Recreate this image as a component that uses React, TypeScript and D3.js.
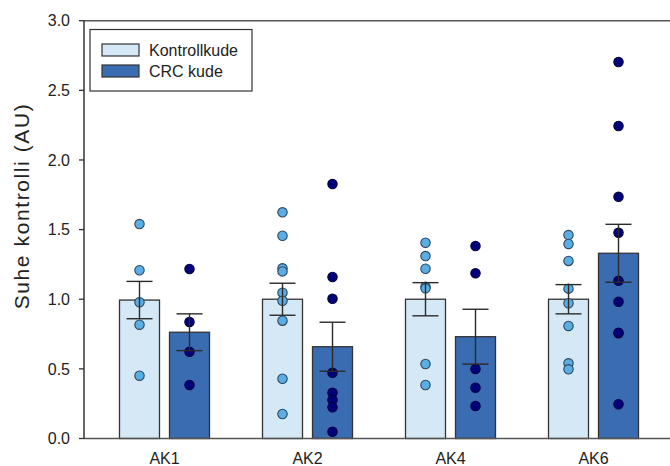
import React from "react";
import * as d3 from "d3";

const categories = ["AK1", "AK2", "AK4", "AK6"];
const seriesNames = ["Kontrollkude", "CRC kude"];

const kontrollMean = [0.994, 1.0, 1.0, 1.0];
const kontrollSem = [0.134, 0.115, 0.119, 0.105];
const crcMean = [0.763, 0.659, 0.731, 1.33];
const crcSem = [0.132, 0.176, 0.197, 0.208];

const kontrollPoints = [
  [1.54, 1.208, 0.978, 0.817, 0.451],
  [1.624, 1.456, 1.222, 1.2, 1.047, 0.989, 0.846, 0.429, 0.176],
  [1.406, 1.31, 1.219, 1.09, 1.078, 0.535, 0.384],
  [1.461, 1.397, 1.275, 1.076, 0.971, 0.808, 0.54, 0.497],
];
const crcPoints = [
  [1.217, 0.837, 0.623, 0.384],
  [1.827, 1.16, 1.004, 0.472, 0.329, 0.276, 0.224, 0.049],
  [1.382, 1.186, 0.499, 0.365, 0.233],
  [2.703, 2.244, 1.736, 1.478, 1.133, 0.982, 0.755, 0.76, 0.246],
];

const yTicks = [0, 0.5, 1.0, 1.5, 2.0, 2.5, 3.0];

const W = 670;
const H = 466;
const FONT = "'Liberation Sans', Arial, sans-serif";

export default function App() {
  const left = 84;
  const top = 20.7;
  const bottom = 438.5;

  const y = d3.scaleLinear().domain([0, 3]).range([bottom, top]);
  const x = d3.scaleBand<string>().domain(categories).range([93, 665]).padding(0);
  const barW = 40;
  const gap = 10;
  const capHalf = 13;

  const series = [
    {
      name: seriesNames[0],
      mean: kontrollMean,
      sem: kontrollSem,
      pts: kontrollPoints,
      fill: "#d5e8f6",
      dotFill: "#5aaee3",
      dotStroke: "#2b4760",
      off: -gap / 2 - barW,
    },
    {
      name: seriesNames[1],
      mean: crcMean,
      sem: crcSem,
      pts: crcPoints,
      fill: "#3a6cb2",
      dotFill: "#00007a",
      dotStroke: "#000040",
      off: gap / 2,
    },
  ];

  const center = (c: string) => (x(c) as number) + x.bandwidth() / 2;

  return (
    <svg
      width={W}
      height={H}
      style={{ position: "absolute", left: 0, top: 0, background: "#fff" }}
      fontFamily={FONT}
    >
      {/* bars */}
      {series.map((s, si) =>
        categories.map((c, i) => (
          <rect
            key={`b${si}${i}`}
            x={center(c) + s.off}
            y={y(s.mean[i])}
            width={barW}
            height={y(0) - y(s.mean[i])}
            fill={s.fill}
            stroke="#333"
            strokeWidth={1.3}
          />
        ))
      )}
      {/* dots */}
      {series.map((s, si) =>
        categories.map((c, i) =>
          s.pts[i].map((v, j) => (
            <circle
              key={`d${si}${i}${j}`}
              cx={center(c) + s.off + barW / 2}
              cy={y(v)}
              r={4.7}
              fill={s.dotFill}
              stroke={s.dotStroke}
              strokeWidth={1.1}
            />
          ))
        )
      )}
      {/* error bars */}
      {series.map((s, si) =>
        categories.map((c, i) => {
          const cx = center(c) + s.off + barW / 2;
          const hi = y(s.mean[i] + s.sem[i]);
          const lo = y(s.mean[i] - s.sem[i]);
          return (
            <g key={`e${si}${i}`} stroke="#2a2a2a" strokeWidth={1.4}>
              <line x1={cx} x2={cx} y1={hi} y2={lo} />
              <line x1={cx - capHalf} x2={cx + capHalf} y1={hi} y2={hi} />
              <line x1={cx - capHalf} x2={cx + capHalf} y1={lo} y2={lo} />
            </g>
          );
        })
      )}
      {/* frame */}
      <line x1={left} x2={W} y1={top} y2={top} stroke="#555" strokeWidth={1.5} />
      <line x1={left} x2={W} y1={bottom} y2={bottom} stroke="#555" strokeWidth={1.5} />
      <line x1={left} x2={left} y1={top} y2={bottom} stroke="#333" strokeWidth={1.5} />
      {/* y ticks */}
      {yTicks.map((t) => (
        <g key={`t${t}`}>
          <line x1={left - 5} x2={left} y1={y(t)} y2={y(t)} stroke="#333" strokeWidth={1.3} />
          <text
            x={70}
            y={y(t)}
            dy="0.36em"
            textAnchor="end"
            fontSize={16}
            fill="#222"
          >
            {d3.format(".1f")(t)}
          </text>
        </g>
      ))}
      {/* x labels */}
      {categories.map((c) => (
        <text key={`x${c}`} x={center(c)} y={464} textAnchor="middle" fontSize={16} fill="#222">
          {c}
        </text>
      ))}
      {/* y title */}
      <text
        transform={`translate(29,206) rotate(-90)`}
        textAnchor="middle"
        fontSize={21}
        letterSpacing={1.6}
        fill="#222"
      >
        Suhe kontrolli (AU)
      </text>
      {/* legend */}
      <rect x={90} y={29.5} width={162} height={61.5} fill="#fff" stroke="#333" strokeWidth={1.2} />
      {series.map((s, si) => (
        <g key={`l${si}`}>
          <rect
            x={102}
            y={44 + si * 21}
            width={37}
            height={12}
            fill={s.fill}
            stroke="#333"
            strokeWidth={1.2}
          />
          <text x={149} y={56 + si * 21} fontSize={16} fill="#222">
            {s.name}
          </text>
        </g>
      ))}
    </svg>
  );
}
